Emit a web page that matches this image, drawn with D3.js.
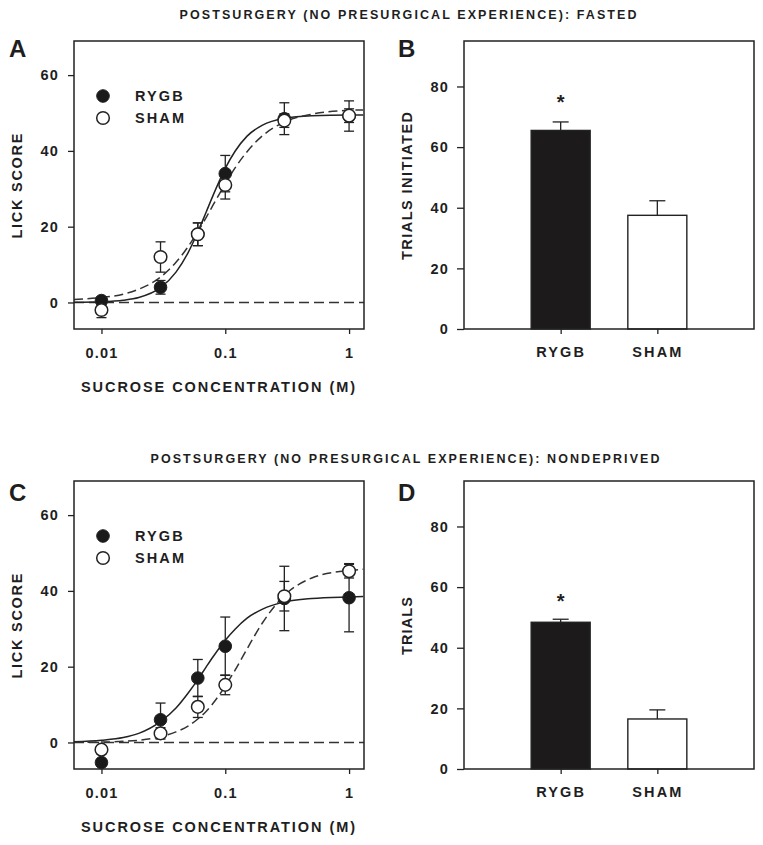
<!DOCTYPE html>
<html><head><meta charset="utf-8">
<script src="https://cdn.jsdelivr.net/npm/d3@7"></script>
<style>
body{margin:0;background:#fff}
text{font-family:"Liberation Sans",Arial,sans-serif;font-weight:bold;fill:#1e1e1e}
</style>
</head><body>
<svg id="chart" width="763" height="845"></svg>
<script>
// ---------- data ----------
const titles = ["POSTSURGERY (NO PRESURGICAL EXPERIENCE): FASTED",
                "POSTSURGERY (NO PRESURGICAL EXPERIENCE): NONDEPRIVED"];
const panelLetters = ["A","B","C","D"];
const groups = ["RYGB","SHAM"];
const concentrations = [0.01, 0.03, 0.06, 0.1, 0.3, 1];

const fastedRygbMean = [0.5, 4, 18, 34, 48.5, 49.2];
const fastedRygbSem  = [1, 1.8, 3, 4.8, 4.2, 4];
const fastedShamMean = [-2, 12, 18, 31, 48, 49.3];
const fastedShamSem  = [2, 4, 3, 3.7, 1.8, 1.8];

const nondepRygbMean = [-5.3, 6, 17, 25.4, 38, 38.2];
const nondepRygbSem  = [0.8, 4.4, 4.9, 7.7, 8.5, 9];
const nondepShamMean = [-1.9, 2.4, 9.4, 15.2, 38.6, 45.2];
const nondepShamSem  = [1, 1.5, 2.8, 2.6, 3.9, 1.8];

// fitted curves
const curveConc = [0.006,0.01,0.015,0.02,0.03,0.04,0.05,0.06,0.07,0.08,0.1,0.12,0.15,0.2,0.3,0.5,1,1.3];
const fastedRygbCurve = [0.05,0.2,0.6,1.3,3.9,8.0,13.1,18.6,23.8,28.4,35.4,39.9,43.9,46.8,48.6,49.3,49.5,49.5];
const fastedShamCurve = [0.8,1.3,2.2,3.5,6.7,10.6,14.7,18.7,22.4,25.8,31.3,35.5,39.8,44.0,47.6,49.7,50.7,50.8];
const nondepRygbCurve = [0.2,0.6,1.3,2.4,5.5,9.1,13.0,16.6,19.9,22.7,27.0,29.9,32.8,35.2,37.1,38.0,38.4,38.5];
const nondepShamCurve = [0.05,0.1,0.3,0.6,1.5,2.8,4.3,6.2,8.2,10.4,14.9,19.1,24.7,31.6,38.8,43.4,45.4,45.7];

const fastedTrials = [65.5, 37.5];
const fastedTrialsSem = [2.8, 4.8];
const nondepTrials = [48.4, 16.5];
const nondepTrialsSem = [1, 3];

const concTicks = [0.01, 0.1, 1];
const concTickLabels = ["0.01", "0.1", "1"];
const lickTicks = [0, 20, 40, 60];
const trialTicks = [0, 20, 40, 60, 80];
const lickDomain = [-7, 69];
const concDomain = [0.006, 1.32];
const trialDomain = [0, 95];

const axisTitles = {x: "SUCROSE CONCENTRATION (M)", lick: "LICK SCORE", trialsB: "TRIALS INITIATED", trialsD: "TRIALS"};

// ---------- drawing ----------
const svg = d3.select("#chart");
svg.append("rect").attr("width",763).attr("height",845).attr("fill","#fff");
const INK = "#222";

function styleAxis(g){
  g.select(".domain").remove();
  g.selectAll(".tick line").attr("stroke",INK).attr("stroke-width",1.3);
  g.selectAll(".tick text").attr("font-size",14.5).attr("letter-spacing","1.2px").attr("fill","#1e1e1e")
   .style("font-family",'"Liberation Sans",Arial,sans-serif').style("font-weight","bold");
}

function frame(g,w,h){
  g.append("rect").attr("x",0).attr("y",0).attr("width",w).attr("height",h)
   .attr("fill","none").attr("stroke",INK).attr("stroke-width",1.5);
}

function linePanel(left, top, rygbMean, rygbSem, shamMean, shamSem, rygbCurve, shamCurve, letter, letterY){
  const w = 290, h = 288;
  const g = svg.append("g").attr("transform",`translate(${left},${top})`);
  const x = d3.scaleLog().domain(concDomain).range([0,w]);
  const y = d3.scaleLinear().domain(lickDomain).range([h,0]);

  g.append("g").call(d3.axisLeft(y).tickValues(lickTicks).tickSize(6).tickPadding(9)).call(styleAxis);
  g.append("g").attr("transform",`translate(0,${h})`)
   .call(d3.axisBottom(x).tickValues(concTicks).tickFormat((d,i)=>concTickLabels[i]).tickSize(5).tickPadding(14))
   .call(styleAxis);

  // zero reference line
  g.append("line").attr("x1",0).attr("x2",w).attr("y1",y(0)).attr("y2",y(0))
   .attr("stroke","#333").attr("stroke-width",1.4).attr("stroke-dasharray","10,5");

  const clip = "clip" + letter;
  g.append("clipPath").attr("id",clip).append("rect").attr("width",w).attr("height",h);

  const line = d3.line().x((d,i)=>x(curveConc[i])).y(d=>y(d)).curve(d3.curveMonotoneX);
  g.append("path").datum(rygbCurve).attr("d",line).attr("fill","none")
   .attr("stroke",INK).attr("stroke-width",1.5).attr("clip-path",`url(#${clip})`);
  g.append("path").datum(shamCurve).attr("d",line).attr("fill","none")
   .attr("stroke","#333").attr("stroke-width",1.5).attr("stroke-dasharray","9,4.5").attr("clip-path",`url(#${clip})`);

  function errs(mean, sem){
    const eg = g.append("g").attr("stroke",INK).attr("stroke-width",1.3);
    concentrations.forEach((c,i)=>{
      const cx = x(c), y1 = y(mean[i]+sem[i]), y2 = y(mean[i]-sem[i]);
      eg.append("line").attr("x1",cx).attr("x2",cx).attr("y1",y1).attr("y2",y2);
      eg.append("line").attr("x1",cx-5).attr("x2",cx+5).attr("y1",y1).attr("y2",y1);
      eg.append("line").attr("x1",cx-5).attr("x2",cx+5).attr("y1",y2).attr("y2",y2);
    });
  }
  errs(rygbMean, rygbSem);
  errs(shamMean, shamSem);

  g.selectAll(".rygb").data(rygbMean).enter().append("circle")
   .attr("cx",(d,i)=>x(concentrations[i])).attr("cy",d=>y(d)).attr("r",6.3)
   .attr("fill","#1a1a1a").attr("stroke",INK).attr("stroke-width",1);
  g.selectAll(".sham").data(shamMean).enter().append("circle")
   .attr("cx",(d,i)=>x(concentrations[i])).attr("cy",d=>y(d)).attr("r",6.3)
   .attr("fill","#fff").attr("stroke",INK).attr("stroke-width",1.5);

  frame(g,w,h);

  // legend
  const lg = g.append("g");
  lg.append("circle").attr("cx",29).attr("cy",55).attr("r",6.3).attr("fill","#1a1a1a").attr("stroke",INK);
  lg.append("circle").attr("cx",29).attr("cy",77).attr("r",6.3).attr("fill","#fff").attr("stroke",INK).attr("stroke-width",1.5);
  lg.append("text").attr("x",61).attr("y",60).attr("font-size",14.5).attr("letter-spacing","2.1px").text(groups[0]);
  lg.append("text").attr("x",61).attr("y",82).attr("font-size",14.5).attr("letter-spacing","2.1px").text(groups[1]);

  // axis titles
  g.append("text").attr("x",w/2 - 1).attr("y",h+63).attr("text-anchor","middle").attr("font-size",14.5)
   .attr("textLength",274).attr("lengthAdjust","spacing").text(axisTitles.x);
  g.append("text").attr("transform",`translate(${17-left+5},${h/2 + 1}) rotate(-90)`)
   .attr("text-anchor","middle").attr("font-size",14.5)
   .attr("textLength",105).attr("lengthAdjust","spacing").text(axisTitles.lick);

  svg.append("text").attr("x",9).attr("y",letterY).attr("font-size",24).text(letter);
}

function barPanel(left, top, values, sems, yTitle, titleLen, letter, letterY, starY){
  const w = 290, h = 288;
  const g = svg.append("g").attr("transform",`translate(${left},${top})`);
  const x = d3.scalePoint().domain(groups).range([0,w]).padding(1);
  const y = d3.scaleLinear().domain(trialDomain).range([h,0]);
  const bw = 59;

  g.append("g").call(d3.axisLeft(y).tickValues(trialTicks).tickSize(7).tickPadding(8)).call(styleAxis);
  const xa = g.append("g").attr("transform",`translate(0,${h})`)
   .call(d3.axisBottom(x).tickSize(5).tickPadding(13)).call(styleAxis);
  xa.selectAll(".tick text").attr("letter-spacing","2.1px");

  // error bars (upper only)
  groups.forEach((k,i)=>{
    const cx = x(k);
    g.append("line").attr("x1",cx).attr("x2",cx).attr("y1",y(values[i])).attr("y2",y(values[i]+sems[i]))
     .attr("stroke",INK).attr("stroke-width",1.3);
    g.append("line").attr("x1",cx-8).attr("x2",cx+8).attr("y1",y(values[i]+sems[i])).attr("y2",y(values[i]+sems[i]))
     .attr("stroke",INK).attr("stroke-width",1.3);
  });
  g.selectAll(".bar").data(values).enter().append("rect")
   .attr("x",(d,i)=>x(groups[i])-bw/2).attr("width",bw)
   .attr("y",d=>y(d)).attr("height",d=>h-y(d))
   .attr("fill",(d,i)=>i===0?"#1c1a1a":"#fff").attr("stroke",INK).attr("stroke-width",1.4);

  g.append("text").attr("x",x(groups[0])).attr("y",starY).attr("text-anchor","middle")
   .attr("font-size",20).text("*");

  frame(g,w,h);

  g.append("text").attr("transform",`translate(${407-left+5},${h/2+1}) rotate(-90)`)
   .attr("text-anchor","middle").attr("font-size",14.5)
   .attr("textLength",titleLen).attr("lengthAdjust","spacing").text(yTitle);

  svg.append("text").attr("x",398).attr("y",letterY).attr("font-size",24).text(letter);
}

svg.append("text").attr("x",408).attr("y",19).attr("text-anchor","middle").attr("font-size",12.5)
  .attr("textLength",457).attr("lengthAdjust","spacing").text(titles[0]);
svg.append("text").attr("x",405).attr("y",463).attr("text-anchor","middle").attr("font-size",12.5)
  .attr("textLength",509).attr("lengthAdjust","spacing").text(titles[1]);

linePanel(74, 41, fastedRygbMean, fastedRygbSem, fastedShamMean, fastedShamSem, fastedRygbCurve, fastedShamCurve, panelLetters[0], 57);
barPanel(464, 41, fastedTrials, fastedTrialsSem, axisTitles.trialsB, 148, panelLetters[1], 57, 68);
barPanel(464, 481, nondepTrials, nondepTrialsSem, axisTitles.trialsD, 58, panelLetters[3], 501, 127);
linePanel(74, 481, nondepRygbMean, nondepRygbSem, nondepShamMean, nondepShamSem, nondepRygbCurve, nondepShamCurve, panelLetters[2], 501);
</script>
</body></html>
